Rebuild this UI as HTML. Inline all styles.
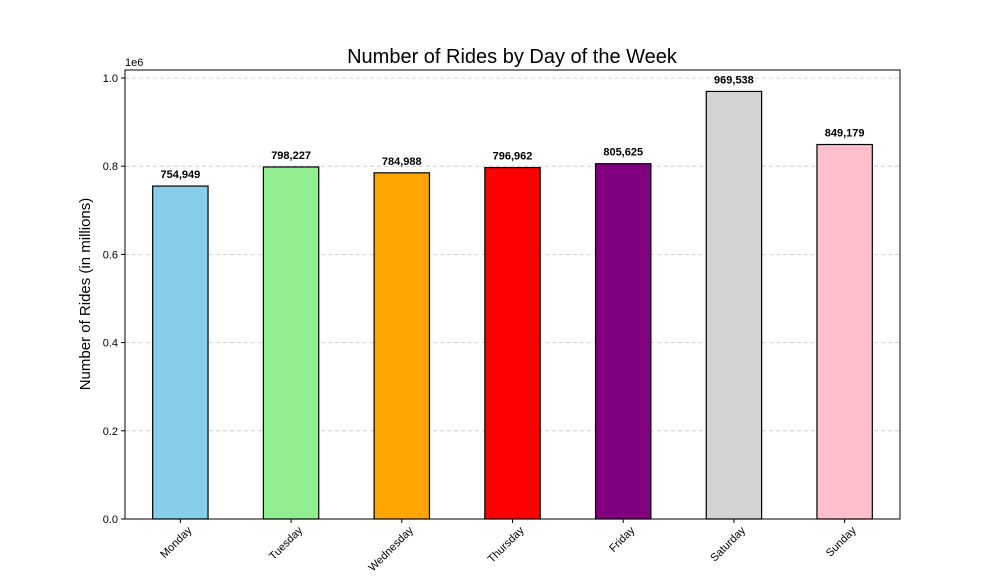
<!DOCTYPE html>
<html><head><meta charset="utf-8"><style>
body{margin:0;background:#fff;}
svg{display:block;font-family:"Liberation Sans","DejaVu Sans",sans-serif;}
</style></head><body>
<svg id="chart" width="1000" height="583">
<text x="512" y="63" font-size="20" text-anchor="middle">Number of Rides by Day of the Week</text>
<text transform="translate(90,294) rotate(-90)" font-size="15" text-anchor="middle">Number of Rides (in millions)</text>
<text x="125" y="66" font-size="11">1e6</text>
<g id="grid"></g><g id="bars"></g><g id="ticks"></g>
<rect x="125" y="70" width="775" height="449" fill="none" stroke="#000" stroke-width="1"/>
</svg>
<script>
const categories=["Monday","Tuesday","Wednesday","Thursday","Friday","Saturday","Sunday"];
const rides=[754949,798227,784988,796962,805625,969538,849179];
const colors=["skyblue","lightgreen","orange","red","purple","lightgray","pink"];
const yTicks=[0,0.2,0.4,0.6,0.8,1.0];
const ns="http://www.w3.org/2000/svg";
const L=125,R=900,B=519,pxPerUnit=441;
const band=(R-L)/categories.length;
const x=i=>L+band*(i+0.5);
const y=v=>B-v/1e6*pxPerUnit;
function mk(tag,attrs,parent,text){const e=document.createElementNS(ns,tag);for(const k in attrs)e.setAttribute(k,attrs[k]);if(text!==undefined)e.textContent=text;document.getElementById(parent).appendChild(e);return e;}
yTicks.forEach(t=>{
  const yy=y(t*1e6);
  const g=mk("line",{x1:L,x2:R,y1:yy,y2:yy,stroke:"#c8c8c8","stroke-dasharray":"4,3","stroke-width":0.8},"grid");
  
  
  const tk=mk("line",{x1:L-4,x2:L,y1:yy,y2:yy,stroke:"#000"},"ticks");
  
  
  const lb=mk("text",{x:L-7,y:yy+4,"font-size":11,"text-anchor":"end"},"ticks",t.toFixed(1));
  
  
});
categories.forEach((c,i)=>{
  const w=band*0.5,cx=x(i),top=y(rides[i]);
  const r=mk("rect",{x:cx-w/2,y:top,width:w,height:B-top,fill:colors[i],stroke:"#000","stroke-width":1.2},"bars");
  
  
  const v=mk("text",{x:cx,y:top-8,"font-size":11,"font-weight":"bold","text-anchor":"middle"},"bars",rides[i].toLocaleString("en-US"));
  
  
  const tk=mk("line",{x1:cx,x2:cx,y1:B,y2:B+4,stroke:"#000"},"ticks");
  
  
  const lb=mk("text",{x:0,y:0,"font-size":11,"text-anchor":"end",transform:`translate(${cx+12},${B+12}) rotate(-45)`},"ticks",c);
  
  
});
</script>
</body></html>
